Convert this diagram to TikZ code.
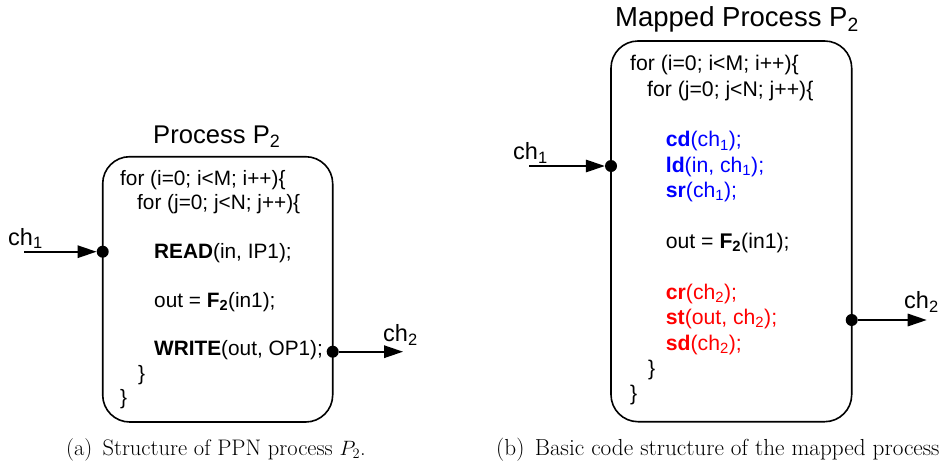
\documentclass[tikz,border=0pt]{standalone}
\usepackage{fontspec}
\newfontfamily\arialf{Liberation Sans}
\usetikzlibrary{arrows.meta}
\definecolor{cblue}{RGB}{0,0,255}
\definecolor{cred}{RGB}{255,0,0}
\begin{document}
\begin{tikzpicture}[x=1pt,y=-1pt,
  procbox/.style={draw, line width=1.6pt, rounded corners=27pt, inner sep=0pt},
  pindot/.style={circle, fill=black, inner sep=0pt, minimum size=12pt},
  flow/.style={line width=1.6pt, -{Triangle[length=19pt,width=12.5pt]}},
  codeL/.style={anchor=base west, inner sep=0pt, font=\arialf\fontsize{20.8}{24}\selectfont},
  codeR/.style={anchor=base west, inner sep=0pt, font=\arialf\fontsize{21.2}{24}\selectfont},
  chlab/.style={anchor=base west, inner sep=0pt, font=\arialf\fontsize{23.5}{26}\selectfont},
  title/.style={anchor=base west, inner sep=0pt, font=\arialf\fontsize{25.6}{28}\selectfont},
  capt/.style={anchor=base west, inner sep=0pt, font=\fontsize{22.5}{26}\selectfont}
]
\useasboundingbox (0,0) rectangle (942,466);

% ---------------- (a) ----------------
\node[procbox, minimum width=230pt, minimum height=265.3pt] (boxL) at (217.7,289.35) {};
\node[title] (titleL) at (153,143.3) {Process P\textsubscript{2}};

\node[codeL] (l1) at (120,185) {for (i=0; i<M; i++)\{};
\node[codeL] (l2) at (137,209.4) {for (j=0; j<N; j++)\{};
\node[codeL] (l3) at (154,258.2) {\textbf{READ}(in, IP1);};
\node[codeL] (l4) at (154,307) {out = \textbf{F\textsubscript{2}}(in1);};
\node[codeL] (l5) at (154,355.8) {\textbf{WRITE}(out, OP1);};
\node[codeL] (l6) at (138,380.2) {\}};
\node[codeL] (l7) at (120,404.6) {\}};

\node[pindot] (inL) at (102.7,251.7) {};
\node[pindot] (outL) at (332.7,351.7) {};
\coordinate (srcL) at (24,251.7);
\coordinate (dstL) at (403,351.7);
\draw[flow] (srcL) -- (inL);
\draw[flow] (outL) -- (dstL);
\node[chlab] (ch1L) at (8,245) {ch\textsubscript{1}};
\node[chlab] (ch2L) at (383,341.7) {ch\textsubscript{2}};

\node[capt] (captA) at (66,455.7) {(a)\hspace{0.45em}Structure of PPN process $P_2$.};

% ---------------- (b) ----------------
\node[procbox, minimum width=240.7pt, minimum height=380.7pt] (boxR) at (731.35,231.35) {};
\node[title, font=\arialf\fontsize{27.5}{30}\selectfont] (titleR) at (615,26.7) {Mapped Process P\textsubscript{2}};

\node[codeR] (r1) at (630,70.7) {for (i=0; i<M; i++)\{};
\node[codeR] (r2) at (647,96.1) {for (j=0; j<N; j++)\{};
\node[codeR, text=cblue] (r3) at (665.7,146.9) {\textbf{cd}(ch\textsubscript{1});};
\node[codeR, text=cblue] (r4) at (665.7,172.3) {\textbf{ld}(in, ch\textsubscript{1});};
\node[codeR, text=cblue] (r5) at (665.7,197.7) {\textbf{sr}(ch\textsubscript{1});};
\node[codeR] (r6) at (665.7,248.5) {out = \textbf{F\textsubscript{2}}(in1);};
\node[codeR, text=cred] (r7) at (665.7,299.3) {\textbf{cr}(ch\textsubscript{2});};
\node[codeR, text=cred] (r8) at (665.7,324.7) {\textbf{st}(out, ch\textsubscript{2});};
\node[codeR, text=cred] (r9) at (665.7,350.1) {\textbf{sd}(ch\textsubscript{2});};
\node[codeR] (r10) at (648,375.5) {\}};
\node[codeR] (r11) at (630,400.9) {\}};

\node[pindot] (inR) at (611,166) {};
\node[pindot] (outR) at (851.7,320) {};
\coordinate (srcR) at (529,166);
\coordinate (dstR) at (926.7,320);
\draw[flow] (srcR) -- (inR);
\draw[flow] (outR) -- (dstR);
\node[chlab] (ch1R) at (513,159.3) {ch\textsubscript{1}};
\node[chlab] (ch2R) at (904,308.3) {ch\textsubscript{2}};

\node[capt, font=\fontsize{23.2}{26}\selectfont] (captB) at (496,455.7) {(b)\hspace{0.45em}Basic code structure of the mapped process $P_2$.};
\end{tikzpicture}
\end{document}
